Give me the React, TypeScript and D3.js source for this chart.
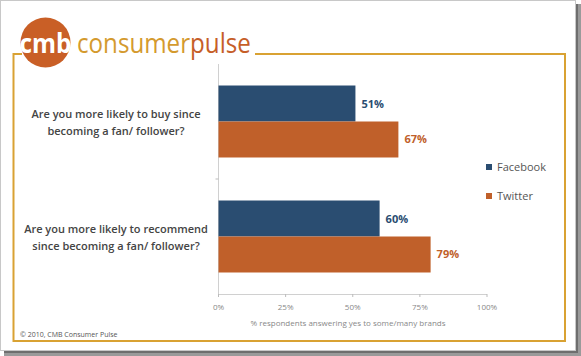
import React from "react";
import * as d3 from "d3";

const categories = [
  ["Are you more likely to buy since", "becoming a fan/ follower?"],
  ["Are you more likely to recommend", "since becoming a fan/ follower?"],
];
const seriesNames = ["Facebook", "Twitter"];
const facebookValues = [51, 60];
const twitterValues = [67, 79];
const tickValues = [0, 25, 50, 75, 100];
const colors = ["#2a4d71", "#c0602a"];

export default function App() {
  const W = 581, H = 356;
  const x = d3.scaleLinear().domain([0, 100]).range([218.5, 487]);
  const y = d3.scaleBand().domain(["0", "1"]).range([64, 294]).paddingInner(0.374).paddingOuter(0.187);
  const sub = d3.scaleBand().domain(["0", "1"]).range([0, y.bandwidth()]);
  const series = [facebookValues, twitterValues];
  const gold = "#d9a233";
  return (
    <svg width={W} height={H} style={{ position: "absolute", left: 0, top: 0, fontFamily: "'Open Sans', Calibri, sans-serif" }}>
      <rect x={0} y={0} width={W} height={H} fill="#fff" />
      {/* outer border + shadow */}
      <rect x={0.5} y={0.5} width={575} height={350} fill="none" stroke="#c8c8c8" />
      <rect x={576} y={4} width={5} height={352} fill="#9a9a9a" />
      <rect x={4} y={351} width={577} height={5} fill="#9a9a9a" />
      <rect x={576} y={4} width={2} height={349} fill="#6e6e6e" />
      <rect x={4} y={351} width={574} height={2} fill="#6e6e6e" />
      {/* orange frame */}
      <path d={`M13.5,70 L13.5,54 L22,54 M255,54 L565,54 L565,341 L13.5,341 L13.5,70`} fill="none" stroke={gold} strokeWidth={2} />
      {/* logo */}
      <circle cx={45.5} cy={42.5} r={25} fill="#c95f26" />
      <text x={45.5} y={53} textAnchor="middle" fill="#fff" fontSize={26} fontWeight={700} textLength={52} lengthAdjust="spacingAndGlyphs" fontFamily="'Open Sans', sans-serif">cmb</text>
      <g transform="translate(77,53) scale(0.895,1)">
        <text x={0} y={0} fontSize={27} fontFamily="'Open Sans', sans-serif">
          <tspan fill="#d49a2e">consumer</tspan>
          <tspan fill="#c65e28">pulse</tspan>
        </text>
      </g>
      {/* y axis */}
      <line x1={x(0)} x2={x(0)} y1={64} y2={294} stroke="#d0d0d0" />
      <line x1={x(0) - 3} x2={x(0)} y1={179} y2={179} stroke="#bbb" />
      {/* x axis */}
      <line x1={x(0)} x2={x(100)} y1={294.5} y2={294.5} stroke="#d0d0d0" />
      {tickValues.map((t) => (
        <g key={t}>
          <line x1={x(t)} x2={x(t)} y1={294} y2={297} stroke="#bbb" />
          <text x={x(t)} y={310} textAnchor="middle" fontSize={8} fill="#888">{t}%</text>
        </g>
      ))}
      <text x={348} y={326} textAnchor="middle" fontSize={8} fill="#888">% respondents answering yes to some/many brands</text>
      {/* bars */}
      {categories.map((c, i) => (
        <g key={i}>
          {series.map((vals, s) => {
            const by = (y(String(i)) as number) + (sub(String(s)) as number);
            return (
              <g key={s}>
                <rect x={x(0)} y={by} width={x(vals[i]) - x(0)} height={sub.bandwidth()} fill={colors[s]} />
                <text x={x(vals[i]) + 6} y={by + sub.bandwidth() / 2 + 4} fontSize={11} fontWeight={700} fill={colors[s]}>{vals[i]}%</text>
              </g>
            );
          })}
          {c.map((line, k) => (
            <text key={k} x={116} y={(y(String(i)) as number) + y.bandwidth() / 2 - 4 + k * 17} textAnchor="middle" fontSize={11} fontWeight={600} fill="#444">{line}</text>
          ))}
        </g>
      ))}
      {/* legend */}
      {seriesNames.map((n, s) => (
        <g key={n}>
          <rect x={486} y={164 + s * 29} width={6} height={6} fill={colors[s]} />
          <text x={497} y={171 + s * 29} fontSize={11} fill="#555">{n}</text>
        </g>
      ))}
      <text x={20} y={337} fontSize={7} fill="#555">© 2010, CMB Consumer Pulse</text>
    </svg>
  );
}
